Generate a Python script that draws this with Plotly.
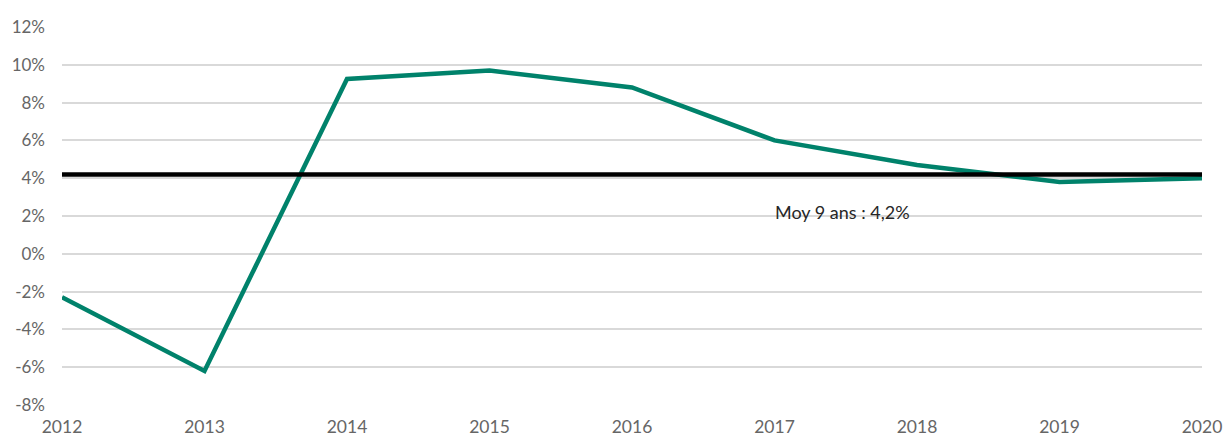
import plotly.graph_objects as go

years = [2012, 2013, 2014, 2015, 2016, 2017, 2018, 2019, 2020]
growth = [-2.3, -6.2, 9.25, 9.7, 8.8, 6.0, 4.7, 3.8, 4.0]
mean_9y = 4.2
mean_label = "Moy 9 ans : 4,2%"
y_ticks = list(range(-8, 13, 2))
y_tick_text = [f"{v}%" for v in y_ticks]

fig = go.Figure()
fig.add_trace(go.Scatter(x=years, y=growth, mode="lines",
                         line=dict(color="#00826B", width=4.5), showlegend=False))
fig.add_trace(go.Scatter(x=[years[0], years[-1]], y=[mean_9y, mean_9y], mode="lines",
                         line=dict(color="#000000", width=4.5), showlegend=False))

fig.add_annotation(x=2017.48, y=2.2, text=mean_label, showarrow=False,
                   font=dict(family="Lato", size=18, color="#262626"))

fig.update_layout(
    width=1224, height=435,
    margin=dict(l=62, r=22, t=27, b=30),
    paper_bgcolor="white", plot_bgcolor="white",
    font=dict(family="Lato", size=17, color="#666666"),
)
fig.update_xaxes(range=[2012, 2020], tickvals=years, showgrid=False, automargin=False,
                 zeroline=False, showline=False, ticks="", tickfont=dict(size=17.5),
                 ticklabelstandoff=9)
fig.update_yaxes(range=[-8, 12], tickvals=y_ticks, ticktext=y_tick_text, automargin=False,
                 showgrid=True, gridcolor="#D9D9D9", gridwidth=1.5,
                 zeroline=False, showline=False, ticks="", ticklabelstandoff=16)

# drop the default page margin so the figure sits at the window's corner
fig.write_html("out.html", config={"displayModeBar": False},
               post_script="document.body.style.margin='0';")
